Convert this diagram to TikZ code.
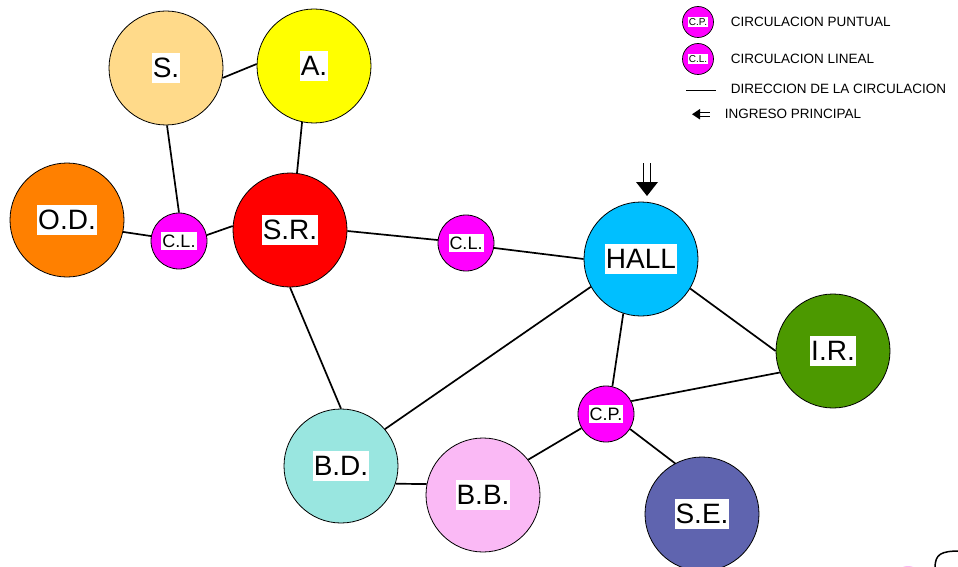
\documentclass[tikz,border=0pt]{standalone}
\usepackage{fontspec}
\setmainfont{Liberation Sans}
\usetikzlibrary{positioning}

\definecolor{sroom}{RGB}{255,218,138}
\definecolor{aroom}{RGB}{255,255,0}
\definecolor{odroom}{RGB}{255,128,0}
\definecolor{srroom}{RGB}{255,0,0}
\definecolor{hallroom}{RGB}{0,191,255}
\definecolor{irroom}{RGB}{76,153,0}
\definecolor{bdroom}{RGB}{153,230,224}
\definecolor{bbroom}{RGB}{250,185,245}
\definecolor{seroom}{RGB}{95,100,175}
\definecolor{circ}{RGB}{255,0,255}

\begin{document}
\begin{tikzpicture}[
    x=1pt, y=-1pt,
    line width=1.7pt,
    room/.style={circle, draw, line width=0.8pt, fill=#1, minimum size=114pt, inner sep=0pt},
    hub/.style={circle, draw, line width=0.8pt, fill=circ, minimum size=56pt, inner sep=0pt},
    keyhub/.style={circle, draw, line width=0.7pt, fill=circ, minimum size=31pt, inner sep=0pt},
    bigtag/.style={fill=white, inner xsep=1pt, inner ysep=5pt, font=\fontsize{28}{30}\selectfont},
    smalltag/.style={fill=white, inner xsep=1pt, inner ysep=3pt, font=\fontsize{18}{20}\selectfont},
    keytag/.style={fill=white, inner xsep=0.5pt, inner ysep=1.5pt, font=\fontsize{10}{11}\selectfont},
    keytext/.style={anchor=west, inner sep=0pt, font=\fontsize{13.5}{15}\selectfont},
]
    \useasboundingbox (0,0) rectangle (958,567);

    % rooms
    \node[room=sroom, label={[bigtag]center:S.}] (s) at (166,68) {};
    \node[room=aroom, label={[bigtag]center:A.}] (a) at (314,66) {};
    \node[room=odroom, label={[bigtag]center:O.D.}] (od) at (67,220) {};
    \node[room=srroom, label={[bigtag]center:S.R.}] (sr) at (290,230) {};
    \node[room=hallroom, label={[bigtag]center:HALL}] (hall) at (641,259) {};
    \node[room=irroom, label={[bigtag]center:I.R.}] (ir) at (833,351) {};
    \node[room=bdroom, label={[bigtag]center:B.D.}] (bd) at (341,466) {};
    \node[room=bbroom, label={[bigtag]center:B.B.}] (bb) at (483,495) {};
    \node[room=seroom, label={[bigtag]center:S.E.}] (se) at (702,514) {};

    % circulation
    \node[hub, label={[smalltag]center:C.L.}] (cl1) at (179,241) {};
    \node[hub, label={[smalltag]center:C.L.}] (cl2) at (466,243) {};
    \node[hub, label={[smalltag]center:C.P.}] (cp) at (606,414) {};

    % links
    \draw (s.-10) -- (a.178);
    \draw (s.-89) -- (cl1.90);
    \draw (a.-102) -- (sr.83);
    \draw (od.-12) -- (cl1.170);
    \draw (cl1.12) -- (sr.176);
    \draw (sr.-1) -- (cl2.174);
    \draw (cl2.-10) -- (hall.180);
    \draw (sr.-90) -- (bd.90);
    \draw (hall.-151) -- (bd.40);
    \draw (hall.-31) -- (ir.180);
    \draw (hall.-108) -- (cp.77);
    \draw (cp.27) -- (ir.-158);
    \draw (cp.-150) -- (bb.38);
    \draw (cp.-32) -- (se.118);
    \draw (bd.-18) -- (bb.169);

    % main entrance
    \draw[line width=0.8pt] (643.5,163) -- (643.5,183) (650.5,163) -- (650.5,183);
    \fill (636,182) -- (658,182) -- (647,196) -- cycle;

    % legend
    \node[keyhub, label={[keytag]center:C.P.}] (keycp) at (698,22) {};
    \node[keyhub, label={[keytag]center:C.L.}] (keycl) at (698,59) {};
    \node[keytext] (txtcp) at (730,22) {CIRCULACION PUNTUAL};
    \node[keytext] (txtcl) at (730,59) {CIRCULACION LINEAL};
    \node[keytext] (txtdir) at (730,89) {DIRECCION DE LA CIRCULACION};
    \node[keytext] (txting) at (724,114) {INGRESO PRINCIPAL};
    \draw[line width=0.8pt] (686,90) -- (716,90);
    \draw[line width=0.7pt] (698,112.5) -- (710,112.5) (698,116) -- (710,116);
    \fill (692,114.25) -- (700,109) -- (700,119.5) -- cycle;

    % cut-off shapes at the edge
    \fill[bbroom] (908,581) circle[radius=15];
    \draw[line width=1.5pt] (935,568) .. controls (935,554) and (941,551) .. (960,551);
\end{tikzpicture}
\end{document}
